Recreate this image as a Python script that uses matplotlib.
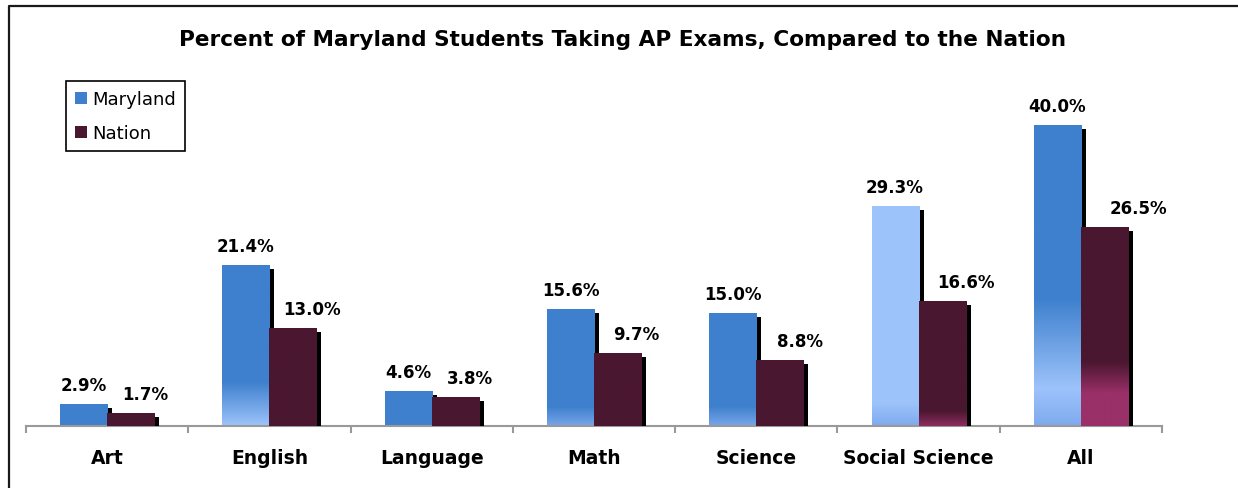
import numpy as np
import matplotlib
matplotlib.use('Agg')
from matplotlib import pyplot as plt
from matplotlib import transforms as mtransforms
from matplotlib.colors import to_rgb
from matplotlib.patches import Patch
from matplotlib.lines import Line2D

plt.rcParams['font.family'] = ['DejaVu Sans']

# data
categories = ['Art', 'English', 'Language', 'Math', 'Science', 'Social Science', 'All']
maryland = [2.9, 21.4, 4.6, 15.6, 15.0, 29.3, 40.0]
nation = [1.7, 13.0, 3.8, 9.7, 8.8, 16.6, 26.5]

md_dark = '#3e80cd'
md_light = '#9dc3fb'
md_low = '#7eaaee'
na_dark = '#4a1730'
na_pink = '#9a3068'

# gradient stops (value from baseline, colour) for each bar, mimicking the excel fills
md_fills = [
    [(0, md_dark)],
    [(0, md_light), (5.8, md_dark)],
    [(0, md_dark)],
    [(0, '#78a6ea'), (2.5, md_dark)],
    [(0, '#78a6ea'), (2.6, md_dark)],
    [(0, md_low), (3.0, md_light)],
    [(0, md_low), (4.9, md_light), (16.9, md_dark)],
]
na_fills = [
    [(0, na_dark)],
    [(0, na_dark)],
    [(0, na_dark)],
    [(0, na_dark)],
    [(0, na_dark)],
    [(0, '#8c2c5e'), (2.0, na_dark)],
    [(0, na_pink), (4.3, na_pink), (8.5, na_dark)],
]
# horizontal offsets (pixels) of the nation value labels
na_label_dx = [15, 19, 15, 19, 20, 24, 34]

fig = plt.figure(figsize=(12.38, 4.89), dpi=100)
ax = fig.add_axes([26 / 1238, 62 / 489, 1136 / 1238, 338.6 / 489])

x = np.arange(len(categories))
w = 0.29


def fill_bar(rect, stops):
    x0 = rect.get_x()
    x1 = x0 + rect.get_width()
    h = rect.get_height()
    ys = np.linspace(0, h, 200)
    sv = [s[0] for s in stops]
    cols = np.array([to_rgb(s[1]) for s in stops])
    img = np.zeros((200, 1, 3))
    for c in range(3):
        img[:, 0, c] = np.interp(ys, sv, cols[:, c])
    im = ax.imshow(img, extent=[x0, x1, 0, h], origin='lower', aspect='auto',
                   zorder=rect.get_zorder() + 0.1, interpolation='bilinear')
    im.set_clip_path(rect)


# shadows: black copy shifted right and down by a few pixels
shadow_tr = mtransforms.offset_copy(ax.transData, fig, x=5, y=-4, units='dots')
sh1 = ax.bar(x - w / 2, maryland, w, color='black', zorder=1)
sh2 = ax.bar(x + w / 2, nation, w, color='black', zorder=3)
for r in list(sh1) + list(sh2):
    r.set_transform(shadow_tr)

b1 = ax.bar(x - w / 2, maryland, w, color=md_dark, zorder=2, linewidth=0)
b2 = ax.bar(x + w / 2, nation, w, color=na_dark, zorder=4, linewidth=0)
for r, st in zip(b1, md_fills):
    fill_bar(r, st)
for r, st in zip(b2, na_fills):
    fill_bar(r, st)

for i in range(len(categories)):
    ax.annotate('{:.1f}%'.format(maryland[i]), (x[i] - w / 2, maryland[i]),
                xytext=(0, 10), textcoords='offset pixels', ha='center', va='bottom',
                fontsize=12, fontweight='bold')
    ax.annotate('{:.1f}%'.format(nation[i]), (x[i] + w / 2, nation[i]),
                xytext=(na_label_dx[i], 10), textcoords='offset pixels', ha='center', va='bottom',
                fontsize=12, fontweight='bold')

ax.set_xlim(-0.5, len(categories) - 0.5)
ax.set_ylim(0, 45)
for s in ['top', 'right', 'left']:
    ax.spines[s].set_visible(False)
ax.spines['bottom'].set_color('#999999')
ax.spines['bottom'].set_linewidth(1.5)
ax.set_yticks([])
ax.set_xticks(np.arange(len(categories) + 1) - 0.5)
ax.set_xticklabels([])
ax.tick_params(axis='x', which='major', length=5, width=1.5, color='#999999')
ax.set_xticks(x, minor=True)
ax.set_xticklabels(categories, minor=True, fontsize=13.5, fontweight='bold')
ax.tick_params(axis='x', which='minor', length=0, pad=16)

fig.text(623 / 1238, 1 - 40 / 489, 'Percent of Maryland Students Taking AP Exams, Compared to the Nation',
         ha='center', va='center', fontsize=15.6, fontweight='bold')

handles = [Patch(facecolor=md_dark, edgecolor='none'), Patch(facecolor=na_dark, edgecolor='none')]
leg = fig.legend(handles, ['Maryland', 'Nation'], loc='upper left',
                 bbox_to_anchor=(66 / 1238, 1 - 82 / 489), bbox_transform=fig.transFigure,
                 borderaxespad=0, fontsize=13, fancybox=False, framealpha=1,
                 handlelength=0.65, handleheight=0.65, handletextpad=0.3,
                 labelspacing=0.9, borderpad=0.5)
leg.get_frame().set_edgecolor('black')
leg.get_frame().set_linewidth(1.2)

# outer chart frame (left and top edges are visible)
fig.add_artist(Line2D([9 / 1238, 9 / 1238, 1], [0, 1 - 6.5 / 489, 1 - 6.5 / 489],
                      transform=fig.transFigure, color='#1a1a1a', linewidth=1.6))

fig.savefig('out.png', dpi=100)
